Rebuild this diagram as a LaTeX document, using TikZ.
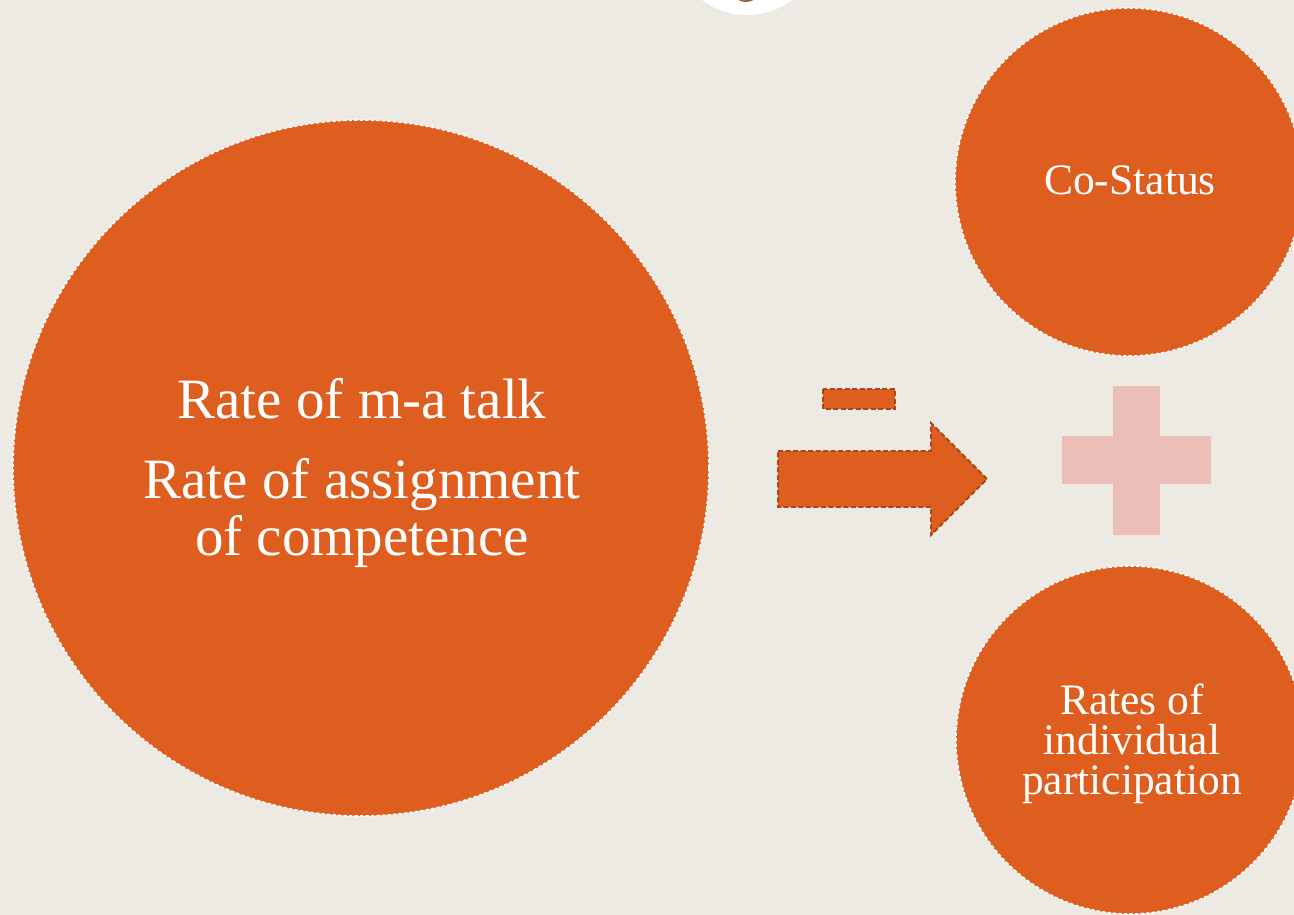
\documentclass[tikz,border=0pt]{standalone}
\usepackage{fontspec}
\setmainfont{Liberation Serif}
\definecolor{paper}{HTML}{EDEAE4}
\definecolor{rust}{HTML}{DD5E1E}
\definecolor{rustdark}{HTML}{A9461A}
\definecolor{blush}{HTML}{EBBFB8}
\definecolor{bronze}{HTML}{8E6B3A}
\tikzset{
  bubble/.style={circle, inner sep=0pt, fill=rust, draw=white,
    line width=1.6pt, dash pattern=on 3.5pt off 2pt},
  bigtext/.style={text=white, align=center,
    font=\fontsize{57}{57}\selectfont},
  smalltext/.style={text=white, align=center,
    font=\fontsize{43.5}{40}\selectfont},
  flowshape/.style={fill=rust, draw=rustdark, line width=1.8pt,
    dash pattern=on 5pt off 2.5pt},
}
\begin{document}
\begin{tikzpicture}[x=1pt,y=-1pt]
  \useasboundingbox (0,0) rectangle (1294,915);
  \clip (0,0) rectangle (1294,915);
  \fill[paper] (0,0) rectangle (1294,915);

  % emblem peeking in at the top edge
  \fill[white] (747,-60) circle (75);
  \fill[bronze] (746,-4) ellipse (10 and 6);

  % the three circles
  \node[bubble, minimum size=696pt] (talk) at (361,468) {};
  \node[bubble, minimum size=348pt] (costatus) at (1129,182) {};
  \node[bubble, minimum size=348pt] (rates) at (1130,740) {};

  % their labels
  \node[bigtext] (talktext) at (362,473.2)
    {Rate of m-a talk\\[23pt]Rate of assignment\\of competence};
  \node[smalltext, anchor=base] (costatustext) at (1130,195) {Co-Status};
  \node[smalltext] (ratestext) at (1132,743.5)
    {Rates of\\individual\\participation};

  % minus sign and arrow
  \draw[flowshape] (823,389) rectangle (895,409);
  \draw[flowshape] (778,451) -- (931,451) -- (931,423) -- (987,479)
    -- (931,535) -- (931,507) -- (778,507) -- cycle;

  % plus sign
  \fill[blush] (1113,386) -- (1160,386) -- (1160,436) -- (1211,436)
    -- (1211,484) -- (1160,484) -- (1160,535) -- (1113,535)
    -- (1113,484) -- (1062,484) -- (1062,436) -- (1113,436) -- cycle;
\end{tikzpicture}
\end{document}
